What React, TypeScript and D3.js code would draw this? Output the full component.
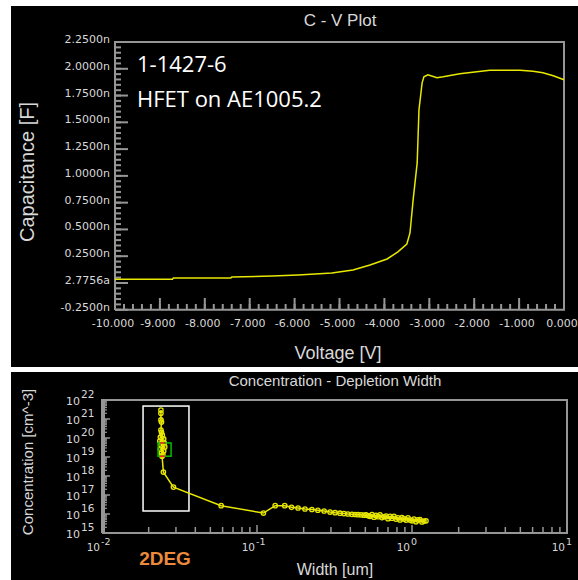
import React from "react";
import * as d3 from "d3";

// C-V sweep, capacitance in nF
const cvVoltage = [
  -10, -8.72, -8.7, -7.42, -7.4, -6.5, -5.92, -5.17, -4.7, -4.32, -3.94, -3.7,
  -3.5, -3.43, -3.36, -3.27, -3.23, -3.16, -3.12, -3.03, -2.83, -2.69, -2.32,
  -1.94, -1.65, -0.98, -0.69, -0.47, -0.24, 0
];
const cvCapacitance = [
  0.035, 0.035, 0.047, 0.047, 0.056, 0.065, 0.075, 0.093, 0.121, 0.168, 0.224,
  0.29, 0.364, 0.467, 0.776, 1.121, 1.617, 1.869, 1.925, 1.944, 1.916, 1.925,
  1.953, 1.972, 1.986, 1.986, 1.977, 1.963, 1.935, 1.897
];
const cvVoltTicks = [-10, -9, -8, -7, -6, -5, -4, -3, -2, -1, 0];
const cvVoltLabels = [
  "-10.000", "-9.000", "-8.000", "-7.000", "-6.000", "-5.000", "-4.000",
  "-3.000", "-2.000", "-1.000", "0.000"
];
const cvCapTicks = [2.25, 2, 1.75, 1.5, 1.25, 1, 0.75, 0.5, 0.25, 0, -0.25];
const cvCapLabels = [
  "2.2500n", "2.0000n", "1.7500n", "1.5000n", "1.2500n", "1.0000n", "0.7500n",
  "0.5000n", "0.2500n", "2.7756a", "-0.2500n"
];

// concentration profile: width in um, concentration in cm^-3
const depWidth = [
  0.024, 0.024, 0.024, 0.0242, 0.024, 0.0242, 0.0245, 0.0238, 0.025, 0.0236,
  0.0252, 0.024, 0.0254, 0.0238, 0.025, 0.0242, 0.0247, 0.0244,
  0.0249, 0.0289, 0.0587, 0.11, 0.131, 0.151, 0.167, 0.184,
  0.204, 0.226, 0.247, 0.271, 0.296, 0.319, 0.343, 0.364, 0.386, 0.41, 0.429,
  0.448, 0.469, 0.49, 0.506, 0.523,
  0.536, 0.552, 0.569, 0.586, 0.604, 0.622, 0.64, 0.66, 0.68, 0.7, 0.721,
  0.743, 0.765, 0.788, 0.812, 0.837, 0.862, 0.888, 0.915, 0.942, 0.971, 1.0,
  1.03, 1.061, 1.093, 1.126, 1.16, 1.195, 1.231
];
const depConc = [
  2.95e21, 2.0e21, 8.9e20, 6.9e20, 2.6e20, 2.0e20, 1.4e20, 1.1e20, 8.9e19,
  6.9e19, 5.5e19, 4.3e19, 3.4e19, 2.6e19, 2.1e19, 1.6e19, 1.3e19, 1.1e19,
  1.6e18, 2.6e17, 2.75e16, 1.12e16, 2.75e16, 2.75e16, 2.25e16, 2.07e16,
  1.83e16, 1.72e16, 1.58e16, 1.44e16, 1.27e16, 1.17e16, 1.1e16, 1.05e16,
  1.0e16, 9.6e15, 9.4e15, 9.2e15, 9.0e15, 8.7e15, 8.9e15, 8.1e15,
  7.57e15, 9.42e15, 6.79e15, 8.44e15, 7.21e15, 8.97e15, 6.47e15, 7.13e15,
  7.85e15, 5.66e15, 7.48e15, 6.01e15, 7.48e15, 5.4e15, 6.31e15, 4.83e15,
  6.38e15, 5.52e15, 4.78e15, 6.24e15, 4.78e15, 4.39e15, 5.46e15, 3.93e15,
  4.89e15, 5.07e15, 3.84e15, 4.23e15, 4.39e15
];
const depWidthDecades = [-2, -1, 0, 1];
const depConcDecades = [15, 16, 17, 18, 19, 20, 21, 22];

// 2DEG marker boxes (width um, conc cm^-3)
const boxWidth = [0.0184, 0.0364];
const boxConc = [4.8e21, 1.44e16];
const focusWidth = [0.023, 0.0279];
const focusConc = [5.5e19, 1.1e19];

const label = "#d8d8d8";
const frame = "#969696";
const yellow = "#e8e800";
const tickFont = "DejaVu Sans, sans-serif";
const titleFont = "Liberation Sans, Arial, sans-serif";

export default function App() {
  const xCV = d3.scaleLinear().domain([-10, 0]).range([115, 564]);
  const yCV = d3.scaleLinear().domain([-0.25, 2.25]).range([309.75, 42]);
  const cvLine = d3
    .line<number>()
    .x((_, i) => xCV(cvVoltage[i]))
    .y((_, i) => yCV(cvCapacitance[i]));

  const xW = d3.scaleLog().domain([0.01, 10]).range([102, 567]);
  const yN = d3.scaleLog().domain([1e15, 1e22]).range([533, 400]);
  const depLine = d3
    .line<number>()
    .x((_, i) => xW(depWidth[i]))
    .y((_, i) => yN(depConc[i]));

  const cvMinorX = d3.range(-10, 0.001, 0.2);
  const cvMinorY = d3.range(-0.25, 2.2501, 0.05);
  const logMinor = (decades: number[]) =>
    decades.slice(0, -1).flatMap(d => d3.range(2, 10).map(m => m * Math.pow(10, d)));
  const wMinor = logMinor(depWidthDecades);
  const nMinor = logMinor(depConcDecades);

  return (
    <div style={{ position: "absolute", left: 0, top: 0 }}>
      <svg width={578} height={580} style={{ display: "block", background: "#fff" }}>
        {/* ---------- C-V panel ---------- */}
        <rect x={11} y={6} width={567} height={361} fill="#000" />
        <text x={340} y={26} fill={label} fontSize={17} fontFamily={titleFont} textAnchor="middle">
          C - V Plot
        </text>

        {cvMinorX.map((v, i) => (
          <line key={"cx" + i} x1={xCV(v)} x2={xCV(v)} y1={309.75} y2={304} stroke={frame} strokeWidth={2} />
        ))}
        {cvVoltTicks.map((v, i) => (
          <g key={"cX" + i}>
            <line x1={xCV(v)} x2={xCV(v)} y1={309.75} y2={298} stroke={frame} strokeWidth={2} />
            <text x={xCV(v) - 2} y={326.5} fill={label} fontSize={11} fontFamily={tickFont} textAnchor="middle">
              {cvVoltLabels[i]}
            </text>
          </g>
        ))}
        {cvMinorY.map((v, i) => (
          <line key={"cy" + i} x1={115} x2={121} y1={yCV(v)} y2={yCV(v)} stroke={frame} strokeWidth={2} />
        ))}
        {cvCapTicks.map((v, i) => (
          <g key={"cY" + i}>
            <line x1={115} x2={128} y1={yCV(v)} y2={yCV(v)} stroke={frame} strokeWidth={2} />
            <text x={110} y={yCV(v) + 1} fill={label} fontSize={11} fontFamily={tickFont} textAnchor="end">
              {cvCapLabels[i]}
            </text>
          </g>
        ))}
        <path d="M115,309.75V42H564V309.75H115" fill="none" stroke={frame} strokeWidth={2} />
        <path d={cvLine(cvVoltage) || ""} fill="none" stroke={yellow} strokeWidth={1.5} />

        <text x={137} y={72} fill="#fff" fontSize={22} fontFamily="Open Sans, sans-serif">
          1-1427-6
        </text>
        <text x={137} y={107} fill="#fff" fontSize={22} fontFamily="Open Sans, sans-serif">
          HFET on AE1005.2
        </text>
        <text
          transform="translate(34,172) rotate(-90)"
          fill={label}
          fontSize={20}
          fontFamily={titleFont}
          textAnchor="middle"
        >
          Capacitance [F]
        </text>
        <text x={338} y={359} fill={label} fontSize={18} fontFamily={titleFont} textAnchor="middle">
          Voltage [V]
        </text>

        {/* ---------- Concentration panel ---------- */}
        <rect x={11} y={372} width={567} height={208} fill="#000" />
        <text x={335} y={386} fill={label} fontSize={15} fontFamily={titleFont} textAnchor="middle">
          Concentration - Depletion Width
        </text>

        {wMinor.map((v, i) => (
          <line key={"wx" + i} x1={xW(v)} x2={xW(v)} y1={533} y2={527} stroke={frame} strokeWidth={1.5} />
        ))}
        {depWidthDecades.map(d => (
          <g key={"wX" + d}>
            <line x1={xW(Math.pow(10, d))} x2={xW(Math.pow(10, d))} y1={533} y2={525} stroke={frame} strokeWidth={1.5} />
            <text x={xW(Math.pow(10, d)) - 2} y={551} fill={label} fontSize={10.5} fontFamily={tickFont} textAnchor="end">
              10
            </text>
            <text x={xW(Math.pow(10, d)) - 1} y={545} fill={label} fontSize={9.5} fontFamily={tickFont}>
              {d}
            </text>
          </g>
        ))}
        {nMinor.map((v, i) => (
          <line key={"ny" + i} x1={102} x2={107} y1={yN(v)} y2={yN(v)} stroke={frame} strokeWidth={1.2} />
        ))}
        {depConcDecades.map(d => (
          <g key={"nY" + d}>
            <line x1={102} x2={110} y1={yN(Math.pow(10, d))} y2={yN(Math.pow(10, d))} stroke={frame} strokeWidth={1.5} />
            <text x={80} y={yN(Math.pow(10, d)) + 5} fill={label} fontSize={11} fontFamily={tickFont} textAnchor="end">
              10
            </text>
            <text x={81} y={yN(Math.pow(10, d)) - 2} fill={label} fontSize={10.5} fontFamily={tickFont}>
              {d}
            </text>
          </g>
        ))}
        <path d="M102,533V400H567V533H102" fill="none" stroke={frame} strokeWidth={2} />
        <rect x={102} y={400} width={3} height={133} fill={frame} />

        <rect
          x={xW(boxWidth[0])}
          y={yN(boxConc[0])}
          width={xW(boxWidth[1]) - xW(boxWidth[0])}
          height={yN(boxConc[1]) - yN(boxConc[0])}
          fill="none"
          stroke="#fff"
          strokeWidth={1.5}
        />
        <path d={depLine(depWidth) || ""} fill="none" stroke={yellow} strokeWidth={1.5} />
        {depWidth.map((w, i) => (
          <circle key={"p" + i} cx={xW(w)} cy={yN(depConc[i])} r={2.2} fill="none" stroke={yellow} strokeWidth={1.3} />
        ))}
        <rect
          x={xW(focusWidth[0])}
          y={yN(focusConc[0])}
          width={xW(focusWidth[1]) - xW(focusWidth[0])}
          height={yN(focusConc[1]) - yN(focusConc[0])}
          fill="none"
          stroke="#00c000"
          strokeWidth={1.5}
        />
        {focusConc.map((c, i) => (
          <line key={"r" + i} x1={xW(focusWidth[0]) + 2} x2={xW(focusWidth[0]) + 7} y1={yN(c)} y2={yN(c)} stroke="#ff2020" strokeWidth={1.5} />
        ))}

        <text x={165} y={565} fill="#ec8a3c" fontSize={19} fontWeight="bold" fontFamily={titleFont} textAnchor="middle">
          2DEG
        </text>
        <text
          transform="translate(33,462) rotate(-90)"
          fill={label}
          fontSize={15}
          fontFamily={titleFont}
          textAnchor="middle"
        >
          Concentration [cm^-3]
        </text>
        <text x={335} y={575} fill={label} fontSize={16} fontFamily={titleFont} textAnchor="middle">
          Width [um]
        </text>
      </svg>
    </div>
  );
}
